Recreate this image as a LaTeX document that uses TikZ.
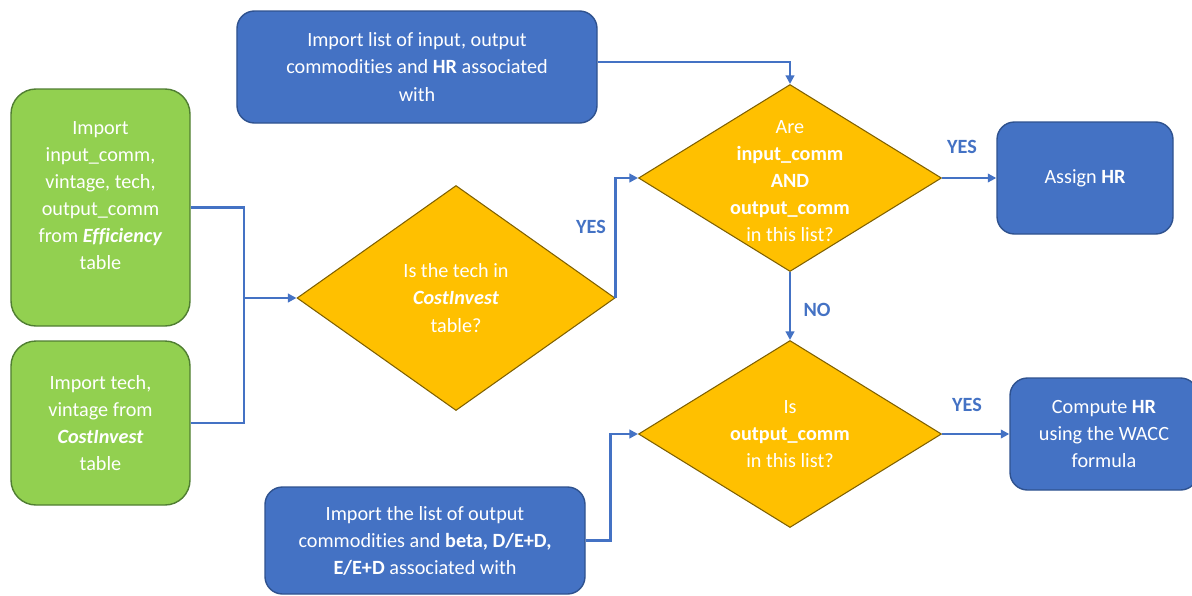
\documentclass[tikz,border=0pt]{standalone}
\usepackage{fontspec}
\setmainfont[Ligatures=NoCommon]{Carlito}
\usetikzlibrary{arrows.meta, shapes.geometric}
\definecolor{boxblue}{HTML}{4472C4}
\definecolor{boxblueline}{HTML}{2F528F}
\definecolor{boxgreen}{HTML}{92D050}
\definecolor{boxgreenline}{HTML}{507E32}
\definecolor{askgold}{HTML}{FFC000}
\definecolor{askline}{HTML}{7F6000}

\begin{document}
\begin{tikzpicture}[x=0.2mm, y=-0.2mm,
  every node/.style={font=\fontsize{11.5}{15.4}\selectfont, text=white, align=center},
  greenbox/.style={draw=boxgreenline, line width=0.8pt, fill=boxgreen, rounded corners=5mm, inner sep=0pt},
  bluebox/.style={draw=boxblueline, line width=0.8pt, fill=boxblue, rounded corners=3.5mm, inner sep=0pt},
  decision/.style={diamond, draw=askline, line width=0.6pt, fill=askgold, inner sep=0pt},
  flow/.style={draw=boxblue, line width=1.4pt},
  arr/.style={flow, -{Triangle[length=1.7mm,width=1.7mm]}},
  answer/.style={text=boxblue, font=\fontsize{11.5}{15.4}\selectfont\bfseries}]
  \useasboundingbox (0,0) rectangle (1192,595);

  \node[greenbox, minimum width=35.8mm, minimum height=47.4mm, text depth=4.8mm] (effic) at (100.5,207.5)
    {Import\\input\_comm,\\vintage, tech,\\output\_comm\\from \textbf{\textit{Efficiency}}\\table};
  \node[greenbox, minimum width=35.8mm, minimum height=32.8mm] (costinv) at (100.5,423)
    {Import tech,\\vintage from\\\textbf{\textit{CostInvest}}\\table};
  \node[bluebox, minimum width=72mm, minimum height=22.4mm] (hrlist) at (417,67)
    {Import list of input, output\\commodities and \textbf{HR} associated\\with};
  \node[bluebox, minimum width=64mm, minimum height=21.4mm] (betalist) at (425,540.5)
    {Import the list of output\\commodities and \textbf{beta, D/E+D,}\\\textbf{E/E+D} associated with};
  \node[bluebox, minimum width=35.2mm, minimum height=22.4mm] (assign) at (1085,178)
    {Assign \textbf{HR}};
  \node[bluebox, minimum width=37.6mm, minimum height=22.4mm] (compute) at (1104,434)
    {Compute \textbf{HR}\\using the WACC\\formula};

  \node[decision, minimum width=63.6mm, minimum height=45mm] (q1) at (456,298) {};
  \node (q1t) at (q1) {Is the tech in\\\textbf{\textit{CostInvest}}\\table?};
  \node[decision, minimum width=60.6mm, minimum height=37.4mm] (q2) at (790,178) {};
  \node (q2t) at (790,181) {Are\\\textbf{input\_comm}\\\textbf{AND}\\\textbf{output\_comm}\\in this list?};
  \node[decision, minimum width=60.6mm, minimum height=37.4mm] (q3) at (790,434) {};
  \node (q3t) at (q3) {Is\\\textbf{output\_comm}\\in this list?};

  \coordinate (merge) at (244,298);
  \draw[flow] (effic.east) -| (merge);
  \draw[flow] (costinv.east) -| (merge);
  \draw[arr] (merge) -- (q1.west);
  \draw[arr] (q1.east) |- (q2.west);
  \draw[arr] ([yshift=1mm]hrlist.east) -| (q2.north);
  \draw[arr] (q2.east) -- (assign.west);
  \draw[arr] (q2.south) -- (q3.north);
  \draw[arr] (q3.east) -- (compute.west);
  \draw[arr] (betalist.east) -- ++(25,0) |- (q3.west);

  \node[answer] (yes1) at (591,227) {YES};
  \node[answer] (yes2) at (962,147) {YES};
  \node[answer] (no2) at (817,310) {NO};
  \node[answer] (yes3) at (967,405) {YES};
\end{tikzpicture}
\end{document}
